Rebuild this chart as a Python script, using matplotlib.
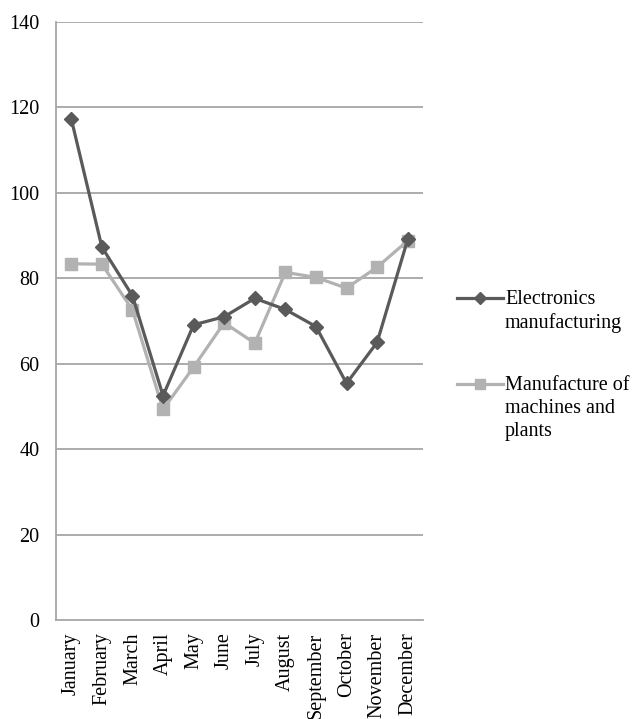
import matplotlib
matplotlib.use("Agg")
import matplotlib.pyplot as plt
from matplotlib.lines import Line2D

months = ["January", "February", "March", "April", "May", "June", "July",
          "August", "September", "October", "November", "December"]
electronics = [117.3, 87.3, 75.9, 52.5, 69.1, 71.0, 75.3, 72.7, 68.7, 55.4, 65.0, 89.1]
machines = [83.4, 83.3, 72.6, 49.3, 59.2, 69.6, 64.8, 81.4, 80.2, 77.7, 82.6, 88.8]
series_names = ["Electronics\nmanufacturing", "Manufacture of\nmachines and\nplants"]
y_ticks = [0, 20, 40, 60, 80, 100, 120, 140]

W, H = 636, 719
dark = "#5a5a5a"
light = "#b2b2b2"
grid = "#a6a6a6"
FS = 14.5

plt.rcParams['font.family'] = ['Liberation Serif', 'DejaVu Serif']
fig = plt.figure(figsize=(W / 100, H / 100), dpi=100)
ax = fig.add_axes([56 / W, 1 - 620 / H, (423 - 56) / W, (620 - 22) / H])

x = list(range(len(months)))
ax.plot(x, machines, color=light, lw=2.3, marker='s', ms=8.5, zorder=3)
ax.plot(x, electronics, color=dark, lw=2.3, marker='D', ms=7.5, zorder=4)

ax.set_xlim(-0.5, len(months) - 0.5)
ax.set_ylim(0, 140)
ax.set_yticks(y_ticks)
ax.set_yticklabels([str(v) for v in y_ticks], fontsize=FS)
ax.set_xticks(x)
ax.set_xticklabels(months, rotation=90, fontsize=FS)
ax.tick_params(axis='y', length=0, pad=12)
ax.tick_params(axis='x', length=0, pad=9)
for yv in y_ticks[1:]:
    ax.axhline(yv, color=grid, lw=1.3, zorder=1)
for s in ['top', 'right']:
    ax.spines[s].set_visible(False)
for s in ['left', 'bottom']:
    ax.spines[s].set_color(grid)
    ax.spines[s].set_linewidth(1.3)

# legend drawn manually
def fx(px):
    return px / W

def fy(py):
    return 1 - py / H

entries = [(series_names[0], dark, 'D', 6.5, 298), (series_names[1], light, 's', 7.0, 384)]
for label, col, mk, ms, ypx in entries:
    fig.add_artist(Line2D([fx(457), fx(503)], [fy(ypx), fy(ypx)], color=col, lw=2.3,
                          transform=fig.transFigure))
    fig.add_artist(Line2D([fx(480)], [fy(ypx)], color=col, marker=mk, ms=ms, lw=0,
                          transform=fig.transFigure))
    fig.text(fx(505), fy(ypx - 8), label, fontsize=FS, va='top', ha='left',
             linespacing=1.3)

fig.savefig("out.png", dpi=100)
